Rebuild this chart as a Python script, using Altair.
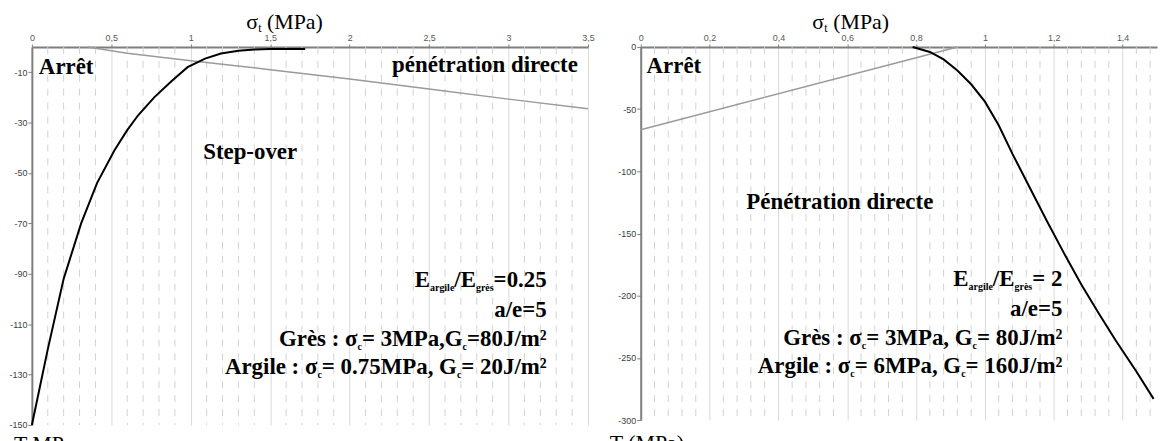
import altair as alt
import pandas as pd

# ---------------- data ----------------
left_x_black = [0, 0.05, 0.1, 0.2, 0.31, 0.41, 0.52, 0.6, 0.67, 0.77, 0.88, 0.98, 1.09, 1.19, 1.3, 1.4, 1.5, 1.72]
left_t_black = [-150, -135, -120, -92, -70, -54, -41, -33, -27, -20, -13.5, -8, -4.6, -2.6, -1.5, -1.0, -0.8, -0.8]
left_x_gray = [0.35, 0.6, 1.0, 1.5, 2.0, 2.5, 3.0, 3.5]
left_t_gray = [0, -2.5, -5.5, -9, -12.7, -16.7, -20.7, -24.5]

right_x_black = [0.79, 0.84, 0.88, 0.92, 0.96, 1.0, 1.04, 1.08, 1.13, 1.18, 1.23, 1.28, 1.33, 1.38, 1.44, 1.49]
right_t_black = [0, -4, -10, -19, -30, -44, -63, -86, -113, -140, -166, -191, -214, -236, -261, -283]
right_x_gray = [0, 0.92]
right_t_gray = [-66.5, 0]

left_xticks = [0, 0.5, 1, 1.5, 2, 2.5, 3, 3.5]
left_yticks = [-10, -30, -50, -70, -90, -110, -130, -150]
right_xticks = [0, 0.2, 0.4, 0.6, 0.8, 1, 1.2, 1.4]
right_yticks = [0, -50, -100, -150, -200, -250, -300]

left_minor_step = 0.1
right_minor_step = 0.04

# ---------------- text metrics (Times-like) ----------------
BOLD = {' ': 250, ':': 333, ',': 250, '.': 250, '/': 278, '=': 570, '-': 333, '(': 333, ')': 333,
        'A': 722, 'E': 667, 'G': 778, 'J': 500, 'M': 944, 'P': 611, 'S': 556, 'T': 667,
        'a': 500, 'c': 444, 'd': 556, 'e': 444, 'g': 500, 'i': 278, 'l': 278, 'm': 833, 'n': 556,
        'o': 500, 'p': 556, 'r': 444, 's': 389, 't': 333, 'v': 500, 'è': 444, 'é': 444, 'ê': 444,
        '²': 300, 'σ': 570}
REG = {' ': 250, '(': 333, ')': 333, 'M': 889, 'P': 556, 'a': 444, 't': 278, 'T': 611, 'σ': 550}
KINDS = {  # size, weight, dy, metrics
    "B": (23, "bold", 0, BOLD),
    "b": (10, "bold", 4, BOLD),
    "R": (22, "normal", 0, REG),
    "r": (12, "normal", 3, REG),
}


def text_w(t, k):
    size, _, _, met = KINDS[k]
    return sum(met.get(ch, 500) for ch in t) / 1000.0 * size


def layout(segs, x0, y0, align, ppu, rows):
    widths = [text_w(t, k) for t, k in segs]
    total = sum(widths)
    if align == "right":
        acc = 0.0
        for (t, k), w in zip(reversed(segs), reversed(widths)):
            if t.strip():
                rows.append(dict(x=x0 - acc / ppu, y=y0, t=t, k=k, a="right"))
            acc += w
    else:
        acc = -total / 2 if align == "center" else 0.0
        for (t, k), w in zip(segs, widths):
            if t.strip():
                rows.append(dict(x=x0 + acc / ppu, y=y0, t=t, k=k, a="left"))
            acc += w


LW, LH = 559, 380
RW, RH = 519, 375
L_XD, L_YD = [0, 3.5], [-150, 0]
R_XD, R_YD = [0, 1.5], [-300, 0]
L_PPU = LW / 3.5
R_PPU = RW / 1.5

title_segs = [("σ", "R"), ("t", "r"), (" ", "R"), ("(MPa)", "R")]

left_rows = []
layout([("Arrêt", "B")], 0.044, -10.7, "left", L_PPU, left_rows)
layout([("pénétration directe", "B")], 3.436, -10, "right", L_PPU, left_rows)
layout([("Step-over", "B")], 1.078, -44.3, "left", L_PPU, left_rows)
layout([("E", "B"), ("argile", "b"), ("/E", "B"), ("grès", "b"), ("=0.25", "B")], 3.24, -95.4, "right", L_PPU, left_rows)
layout([("a/e=5", "B")], 3.24, -107.3, "right", L_PPU, left_rows)
layout([("Grès : σ", "B"), ("c", "b"), ("= 3MPa,G", "B"), ("c", "b"), ("=80J/m²", "B")], 3.24, -118.7, "right", L_PPU, left_rows)
layout([("Argile : σ", "B"), ("c", "b"), ("= 0.75MPa, G", "B"), ("c", "b"), ("= 20J/m²", "B")], 3.24, -129.8, "right", L_PPU, left_rows)
layout(title_segs, 1.59, 7.3, "center", L_PPU, left_rows)
layout([("T MPa", "R")], -0.113, -160.5, "left", L_PPU, left_rows)

right_rows = []
layout([("Arrêt", "B")], 0.017, -20.8, "left", R_PPU, right_rows)
layout([("Pénétration directe", "B")], 0.85, -130.7, "right", R_PPU, right_rows)
layout([("E", "B"), ("argile", "b"), ("/E", "B"), ("grès", "b"), ("= 2", "B")], 1.225, -192.5, "right", R_PPU, right_rows)
layout([("a/e=5", "B")], 1.225, -216.5, "right", R_PPU, right_rows)
layout([("Grès : σ", "B"), ("c", "b"), ("= 3MPa, G", "B"), ("c", "b"), ("= 80J/m²", "B")], 1.225, -239.8, "right", R_PPU, right_rows)
layout([("Argile : σ", "B"), ("c", "b"), ("= 6MPa, G", "B"), ("c", "b"), ("= 160J/m²", "B")], 1.225, -262.2, "right", R_PPU, right_rows)
layout(title_segs, 0.61, 14.8, "center", R_PPU, right_rows)
layout([("T (MPa)", "R")], -0.09, -324, "left", R_PPU, right_rows)


def minor_values(dom, step, majors):
    vals = []
    n = int(round(dom[1] / step))
    for i in range(1, n + 1):
        v = round(i * step, 4)
        if v < dom[1] and all(abs(v - m) > 1e-6 for m in majors):
            vals.append(v)
    return vals


def panel(bx, bt, gx, gt, xdom, ydom, xticks, yticks, minor, W, H, rows):
    xs = alt.Scale(domain=xdom, nice=False, zero=False)
    ys = alt.Scale(domain=ydom, nice=False, zero=False)
    xaxis = alt.Axis(orient="top", values=xticks, title="",
                     labelExpr="replace('' + datum.value, '.', ',')",
                     grid=True, gridColor="#d9d9d9", gridWidth=1,
                     domainColor="#7f7f7f", domainWidth=2,
                     tickColor="#7f7f7f", tickSize=3, tickWidth=1,
                     labelFont="Liberation Sans", labelFontSize=9, labelColor="#595959",
                     labelPadding=1, labelFlush=False)
    yaxis = alt.Axis(orient="left", values=yticks, title="",
                     labelExpr="'' + datum.value", grid=False,
                     domainColor="#7f7f7f", domainWidth=2,
                     tickColor="#7f7f7f", tickSize=4, tickWidth=1,
                     labelFont="Liberation Sans", labelFontSize=9, labelColor="#404040",
                     labelPadding=1)

    X = lambda f: alt.X(f, scale=xs, axis=xaxis)
    Y = lambda f: alt.Y(f, scale=ys, axis=yaxis)

    grid = alt.Chart(pd.DataFrame({"x": minor})).mark_rule(
        color="#d2d2d2", strokeWidth=1, strokeDash=[7, 7]
    ).encode(x=X("x:Q"))

    gray = alt.Chart(pd.DataFrame({"x": gx, "t": gt})).mark_line(
        color="#9a9a9a", strokeWidth=1.5
    ).encode(x=X("x:Q"), y=Y("t:Q"))

    black = alt.Chart(pd.DataFrame({"x": bx, "t": bt})).mark_line(
        color="black", strokeWidth=2
    ).encode(x=X("x:Q"), y=Y("t:Q"))

    layers = [grid, gray, black]
    df = pd.DataFrame(rows)
    for k, (size, weight, dy, _) in KINDS.items():
        for al in ["left", "right"]:
            sub = df[(df.k == k) & (df.a == al)]
            if len(sub) == 0:
                continue
            tdf = pd.DataFrame({"x": sub["x"].values, "t": sub["y"].values, "label": sub["t"].values})
            layers.append(
                alt.Chart(tdf).mark_text(
                    align=al, baseline="alphabetic", font="Liberation Serif",
                    fontSize=size, fontWeight=weight, dy=dy, color="black"
                ).encode(
                    x=X("x:Q"),
                    y=Y("t:Q"),
                    text="label:N",
                )
            )
    return alt.layer(*layers).properties(width=W, height=H)


left = panel(left_x_black, left_t_black, left_x_gray, left_t_gray, L_XD, L_YD,
             left_xticks, left_yticks, minor_values(L_XD, left_minor_step, left_xticks),
             LW, LH, left_rows)
right = panel(right_x_black, right_t_black, right_x_gray, right_t_gray, R_XD, R_YD,
              right_xticks, right_yticks, minor_values(R_XD, right_minor_step, right_xticks),
              RW, RH, right_rows)

chart = alt.hconcat(left, right, spacing=53, bounds="flush").properties(
    padding={"left": 0, "right": 5, "top": 0, "bottom": 0}
).configure_view(stroke="transparent")

chart.save("out.html", embed_options={"renderer": "svg", "actions": False})
